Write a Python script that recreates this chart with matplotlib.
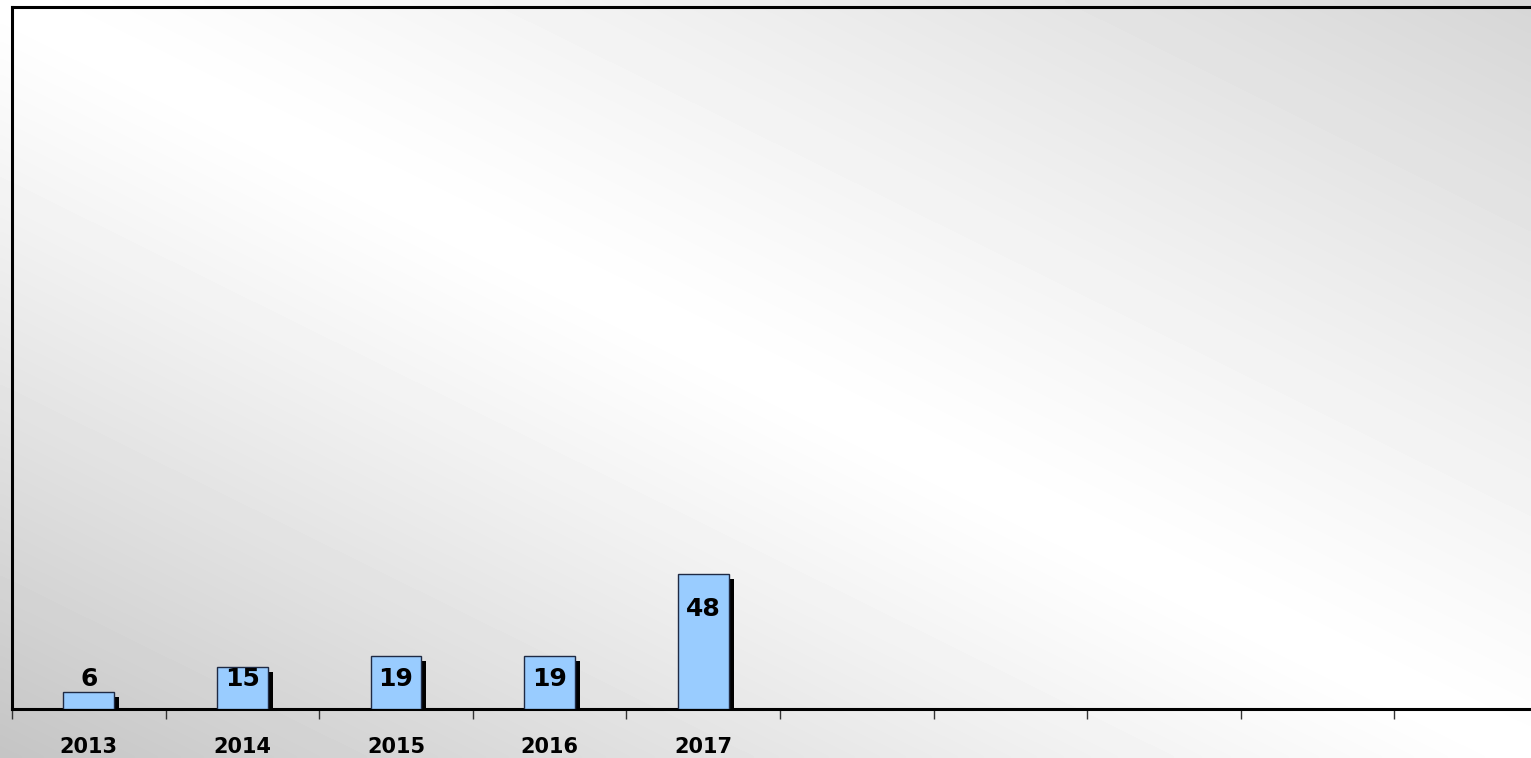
import matplotlib.pyplot as plt
import matplotlib.patheffects as pe
import numpy as np

# yearly counts; the axis reserves ten slots, only the first five are filled
categories = ["2013", "2014", "2015", "2016", "2017", "", "", "", "", ""]
values = [6, 15, 19, 19, 48]

W, H = 1531, 758
fig = plt.figure(figsize=(W / 100, H / 100), dpi=100)

# diagonal grey-white-grey backdrop
bg = fig.add_axes([0, 0, 1, 1], zorder=0)
u = np.linspace(0, 1, 400)
v = np.linspace(0, 1, 200)
U, V = np.meshgrid(u, v)
s = U - V
shade = np.where(s < 0, 1 - 0.23 * np.abs(s) ** 1.15, 1 - 0.16 * s ** 1.15)
bg.imshow(shade, cmap="gray", vmin=0, vmax=1, aspect="auto",
          extent=[0, 1, 1, 0], interpolation="bilinear")
bg.set_xlim(0, 1)
bg.set_ylim(1, 0)
bg.axis("off")

n = len(categories)
ax = fig.add_axes([12 / W, 49 / H, 1536 / W, 702 / H], zorder=1)
ax.patch.set_alpha(0)

x = np.arange(len(values)) + 0.5
bars = ax.bar(x, values, width=0.33, color="#99ccff", edgecolor="#1f2a44",
              linewidth=1.0, zorder=3)
for b in bars:
    b.set_path_effects([pe.SimplePatchShadow(offset=(3.6, -3.6),
                                             shadow_rgbFace="black", alpha=1.0),
                        pe.Normal()])

for xi, val in zip(x, values):
    ax.text(xi, max(val - 12.5, 10.8), str(val), ha="center", va="center",
            fontsize=18, fontweight="bold", color="black", zorder=4)

ax.set_xlim(0, n)
ax.set_ylim(0, 250)

ax.set_xticks(np.arange(n + 1))
ax.set_xticklabels([])
ax.tick_params(axis="x", which="major", direction="out", length=7,
               width=1.0, color="#333333")
ax.set_xticks(np.arange(n) + 0.5, minor=True)
ax.set_xticklabels(categories, minor=True, fontsize=15, fontweight="bold")
ax.tick_params(axis="x", which="minor", length=0, pad=20)
ax.set_yticks([])

for side in ["left", "top", "bottom", "right"]:
    ax.spines[side].set_linewidth(2.2)
    ax.spines[side].set_color("black")

fig.savefig("out.png", dpi=100)
